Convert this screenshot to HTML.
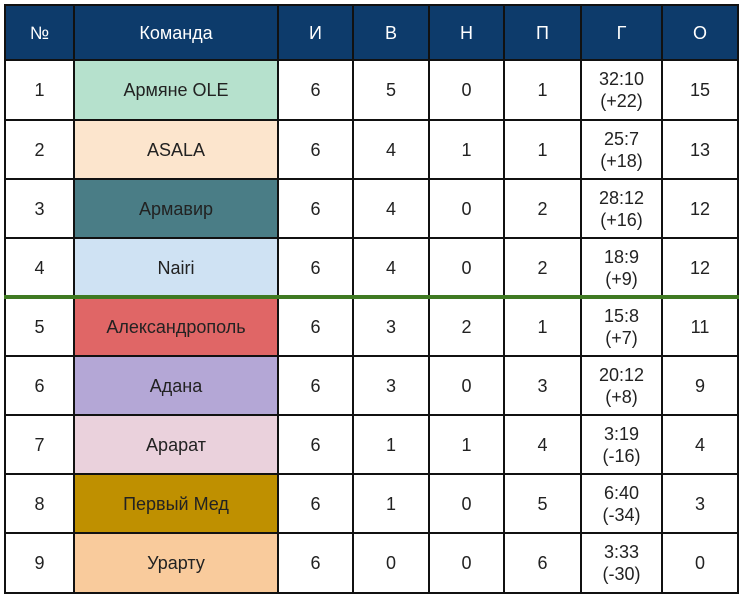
<!DOCTYPE html>
<html><head><meta charset="utf-8"><style>
body{margin:0;width:744px;height:601px;background:#fff;position:relative;font-family:"Liberation Sans",sans-serif;color:#222;overflow:hidden}
.c{position:absolute;box-sizing:border-box;display:flex;align-items:center;justify-content:center;text-align:center;font-size:18px;line-height:22px}
.h{background:#0d3b6b;color:#fff;font-size:18px}
.vl{position:absolute;width:2px;background:#111;top:5px;height:589px}
.hl{position:absolute;height:2px;background:#111;left:4px;width:735px}
</style></head><body>
<div id="t"></div>
<script>
const X=[5,74,278,353,429,504,581,662,738];
const Y=[5,60,120,179,238,297,356,415,474,533,593];
const hd=["№","Команда","И","В","Н","П","Г","О"];
const rows=[
["1","Армяне OLE","6","5","0","1","32:10<br>(+22)","15","#b6e1cd","#222"],
["2","ASALA","6","4","1","1","25:7<br>(+18)","13","#fce5cd","#222"],
["3","Армавир","6","4","0","2","28:12<br>(+16)","12","#4a7d86","#222"],
["4","Nairi","6","4","0","2","18:9<br>(+9)","12","#cfe2f3","#222"],
["5","Александрополь","6","3","2","1","15:8<br>(+7)","11","#e06666","#222"],
["6","Адана","6","3","0","3","20:12<br>(+8)","9","#b4a7d6","#222"],
["7","Арарат","6","1","1","4","3:19<br>(-16)","4","#ead1dc","#222"],
["8","Первый Мед","6","1","0","5","6:40<br>(-34)","3","#bf9000","#222"],
["9","Урарту","6","0","0","6","3:33<br>(-30)","0","#f9cb9c","#222"]];
let h="";
for(let i=0;i<8;i++)h+=`<div class="c h" style="left:${X[i]}px;top:${Y[0]}px;width:${X[i+1]-X[i]}px;height:${Y[1]-Y[0]}px">${hd[i]}</div>`;
rows.forEach((r,j)=>{for(let i=0;i<8;i++){let bg=i==1?r[8]:"#fff";h+=`<div class="c" style="left:${X[i]}px;top:${Y[j+1]}px;width:${X[i+1]-X[i]}px;height:${Y[j+2]-Y[j+1]}px;background:${bg}">${r[i]}</div>`;}});
X.forEach((x,i)=>{h+=`<div class="vl" style="left:${x-1}px"></div>`});
Y.forEach((y,i)=>{if(i==5)h+=`<div class="hl" style="top:${y-2}px;height:4px;background:#3f7a22"></div>`;else h+=`<div class="hl" style="top:${y-1}px"></div>`});
document.getElementById("t").innerHTML=h;
</script>
</body></html>
